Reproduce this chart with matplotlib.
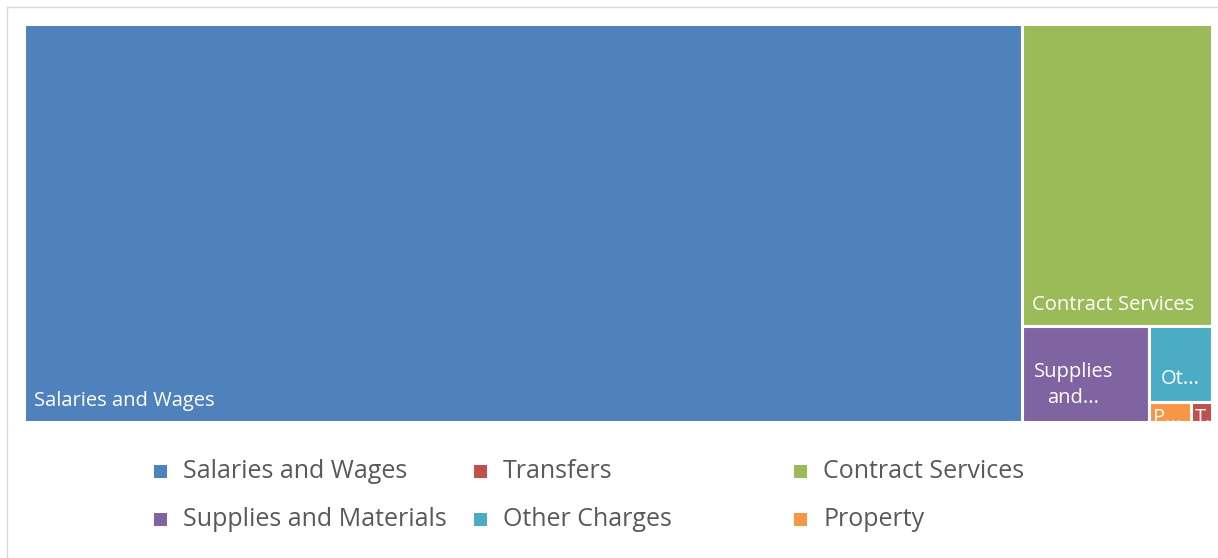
import matplotlib.pyplot as plt
from matplotlib.patches import Rectangle

# Data (approximate spending, read from tile areas)
categories = ["Salaries and Wages", "Contract Services", "Supplies and Materials",
              "Other Charges", "Property", "Transfers"]
values = [8400, 1215, 259, 102, 17.4, 8.9]
tile_labels = ["Salaries and Wages", "Contract Services", "Supplies\nand...",
               "Ot...", "P...", "T..."]
colors = {"Salaries and Wages": "#4F81BD", "Transfers": "#C0504D",
          "Contract Services": "#9BBB59", "Supplies and Materials": "#8064A2",
          "Other Charges": "#4BACC6", "Property": "#F79646"}
legend_order = ["Salaries and Wages", "Transfers", "Contract Services",
                "Supplies and Materials", "Other Charges", "Property"]

plt.rcParams['font.family'] = ['Open Sans', 'DejaVu Sans']

W, H = 1188.0, 398.0
pad = 1.5  # half of the white gap, so outer tile edges land on the plot area


def worst(row, side):
    s = sum(row)
    return max(max(side * side * r / (s * s), s * s / (side * side * r)) for r in row)


def layout_row(row, x, y, w, h):
    s = sum(row)
    rects = []
    if w >= h:  # column on the left
        cw = s / h
        yy = y
        for r in row:
            rh = r / cw
            rects.append((x, yy, cw, rh))
            yy += rh
        return rects, (x + cw, y, w - cw, h)
    else:  # row on top
        rh = s / w
        xx = x
        for r in row:
            rw = r / rh
            rects.append((xx, y, rw, rh))
            xx += rw
        return rects, (x, y + rh, w, h - rh)


def squarify(sizes, x, y, w, h):
    total = sum(sizes)
    areas = [v * w * h / total for v in sizes]
    rects = []
    row = []
    i = 0
    while i < len(areas):
        side = min(w, h)
        a = areas[i]
        if not row or worst(row + [a], side) <= worst(row, side):
            row.append(a)
            i += 1
        else:
            r, (x, y, w, h) = layout_row(row, x, y, w, h)
            rects += r
            row = []
    if row:
        r, _ = layout_row(row, x, y, w, h)
        rects += r
    return rects


rects = squarify(values, 0, 0, W, H)

fig = plt.figure(figsize=(12.18, 5.58), dpi=100)
# chart frame (top and left edges visible)
fig.add_artist(plt.Line2D([7 / 1218, 1], [1 - 7 / 558, 1 - 7 / 558], color="#D9D9D9", lw=1))
fig.add_artist(plt.Line2D([7 / 1218, 7 / 1218], [0, 1 - 7 / 558], color="#D9D9D9", lw=1))

ax = fig.add_axes([(24 - pad) / 1218, 1 - (422 + pad) / 558, (W + 2 * pad) / 1218, (H + 2 * pad) / 558])
ax.set_xlim(-pad, W + pad)
ax.set_ylim(H + pad, -pad)
ax.axis("off")

fs = 14.5
for (x, y, w, h), cat, lab in zip(rects, categories, tile_labels):
    ax.add_patch(Rectangle((x, y), w, h, facecolor=colors[cat], edgecolor="white", lw=2.2))
    clip = Rectangle((x + 1.5, y + 1.5), w - 3, h - 3, transform=ax.transData)
    if cat in ("Salaries and Wages", "Contract Services"):
        t = ax.text(x + 10, y + h - 21, lab, color="white", fontsize=fs, ha="left", va="center")
    elif cat == "Supplies and Materials":
        t = ax.text(x + w / 2 - 12, y + h / 2 + 11, lab, color="white", fontsize=fs, ha="center",
                    va="center", linespacing=1.45)
    elif cat == "Other Charges":
        t = ax.text(x + w / 2, y + h / 2 + 15, lab, color="white", fontsize=fs, ha="center", va="center")
    else:
        t = ax.text(x + 4, y + h / 2 + 6, lab, color="white", fontsize=fs, ha="left", va="center")
    t.set_clip_path(clip)

# legend, Excel-style row-wise order
col_x = [154, 474, 794]
row_y = [471, 519]
for i, cat in enumerate(legend_order):
    cx = col_x[i % 3]
    cy = row_y[i // 3]
    fig.add_artist(Rectangle((cx / 1218, 1 - (cy + 6.5) / 558), 13 / 1218, 13 / 558,
                             transform=fig.transFigure, facecolor=colors[cat], edgecolor="none"))
    fig.text((cx + 29) / 1218, 1 - (cy + 1) / 558, cat, color="#595959", fontsize=18,
             ha="left", va="center")

fig.savefig("out.png", dpi=100)
